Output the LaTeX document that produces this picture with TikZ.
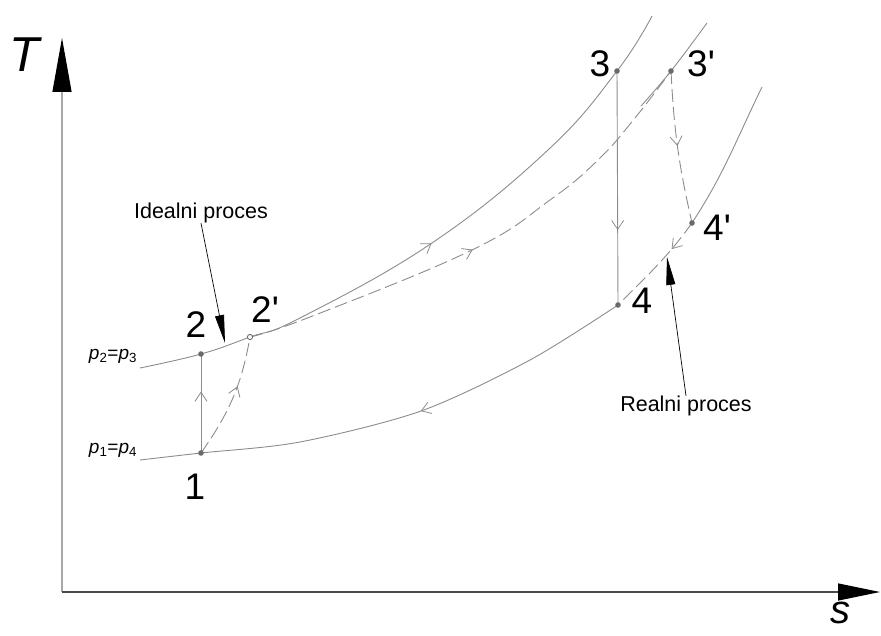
\documentclass[tikz,border=0pt]{standalone}
\usepackage{fontspec}
\setmainfont{Liberation Sans}
\usetikzlibrary{arrows.meta,decorations.markings}
\definecolor{curvegray}{HTML}{8C8C8C}
\definecolor{dotgray}{HTML}{6A6A6A}
\definecolor{taxisgray}{HTML}{A8A8A8}
\definecolor{saxisgray}{HTML}{4A4A4A}

\begin{document}
\begin{tikzpicture}[x=1pt,y=-1pt,
  curve/.style={draw=curvegray,line width=0.9pt},
  realline/.style={curve,dash pattern=on 13pt off 5pt},
  flow/.style={postaction={decorate,decoration={markings,
    mark=at position #1 with {\arrow[line width=0.8pt]{Straight Barb[length=9pt,width=12pt]}}}}},
  pointer/.style={draw=black,line width=0.7pt,-{Triangle[length=28pt,width=9pt]}},
  numlabel/.style={inner sep=0pt,font=\fontsize{37}{44}\selectfont},
  textlabel/.style={inner sep=0pt,font=\fontsize{21.5}{26}\selectfont},
  isolabel/.style={inner sep=0pt,font=\fontsize{19}{23}\selectfont}]
\path[use as bounding box] (0,0) rectangle (881,636);

% axes
\coordinate (o) at (62,592);
\coordinate (tend) at (62,38);
\coordinate (send) at (880,592);
\draw[draw=taxisgray,line width=1.2pt,-{Triangle[length=54pt,width=19pt,color=black]}] (o) -- (tend);
\draw[draw=saxisgray,line width=1.2pt,-{Triangle[length=42pt,width=17pt,color=black]}] (o) -- (send);
\node[inner sep=0pt,font=\fontsize{49}{58}\selectfont\itshape] (tlab) at (24,55) {T};
\node[inner sep=0pt,font=\fontsize{40}{48}\selectfont\itshape] (slab) at (840,613) {s};

% state points
\coordinate (p1) at (201,453);
\coordinate (p2) at (201,354);
\coordinate (p2r) at (250,337);
\coordinate (p3) at (617,71);
\coordinate (p3r) at (671,71);
\coordinate (p4) at (618,305);
\coordinate (p4r) at (692,223);

% isobars
\draw[curve,flow=0.5] plot[smooth,tension=0.7] coordinates
  {(140,368) (p2) (p2r) (300,318) (432,243) (548,150) (p3) (652,16)};
\draw[curve] plot[smooth,tension=0.7] coordinates {(641,106) (p3r) (707,23)};
\draw[curve,flow=0.44] plot[smooth,tension=0.5] coordinates
  {(p4) (530,360) (421,411) (300,442) (p1) (140,460)};
\draw[curve] (p4r) to[out=57,in=244] (762,87);

% ideal process
\draw[curve,flow=0.62] (p1) -- (p2);
\draw[curve,flow=0.68] (p3) -- (p4);

% real process
\draw[realline,flow=0.6] (p1) to[out=55,in=260] (p2r);
\draw[realline,flow=0.47] plot[smooth,tension=0.7] coordinates
  {(p2r) (310,317) (472,250) (550,200) (598,160) (635,118) (p3r)};
\draw[realline,flow=0.49] (p3r) to[bend right=5] (p4r);
\draw[realline,flow=0.3] (p4r) to[out=234,in=45] (p4);

% dots
\foreach \p in {p1,p2,p3,p3r,p4,p4r}
  \fill[dotgray] (\p) circle (2.8);
\draw[dotgray,fill=white,line width=0.9pt] (p2r) circle (2.6);

% point labels
\node[numlabel] (l1) at (195,487) {1};
\node[numlabel] (l2) at (196,325) {2};
\node[numlabel] (l2r) at (265,310) {2\textquotesingle};
\node[numlabel] (l3) at (600,64) {3};
\node[numlabel] (l3r) at (701,64) {3\textquotesingle};
\node[numlabel] (l4) at (642,301) {4};
\node[numlabel] (l4r) at (717,228) {4\textquotesingle};

% pressure labels
\node[isolabel] (iso23) at (113,356) {\textit{p}\textsubscript{2}=\textit{p}\textsubscript{3}};
\node[isolabel] (iso14) at (113,450) {\textit{p}\textsubscript{1}=\textit{p}\textsubscript{4}};

% process labels
\node[textlabel] (ideal) at (201,213) {Idealni proces};
\coordinate (idealtip) at (225,343);
\draw[pointer] (ideal.south) -- (idealtip);
\node[textlabel] (real) at (686,406) {Realni proces};
\coordinate (realtip) at (667,257);
\draw[pointer] (real.north) -- (realtip);
\end{tikzpicture}
\end{document}
